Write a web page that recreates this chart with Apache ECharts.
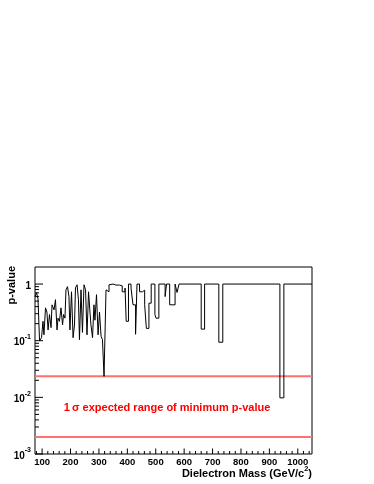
<!DOCTYPE html>
<html>
<head>
    <meta charset="utf-8">
    <title>p-value</title>
    <script src="https://cdn.jsdelivr.net/npm/echarts@6/dist/echarts.min.js"></script>
    <style>
        body { margin: 0; background: #fff; }
        #chart1 { width: 374px; height: 484px; }
    </style>
</head>
<body>
<div id="chart1"></div>
<script type="text/javascript">
    // 直方图的左边界 (GeV/c^2) 和每个 bin 的 p-value
    var binStart = [75, 80.5, 85.5, 91, 98, 103, 106.5, 112, 117, 121,
        126, 131.5, 135, 142, 147, 152.5, 156, 161, 166.5, 172,
        175.5, 180.5, 184, 189.5, 194.5, 198, 203.5, 209, 214, 217.5,
        223, 228, 231.5, 237, 242, 247.5, 253, 258, 263.5, 268.5,
        272, 277.5, 282.5, 286, 291.5, 297, 302, 307.5, 312.5, 318,
        325, 330, 335.5, 339, 350, 360, 366, 372, 382, 392,
        396, 404, 413, 420, 429, 434, 443, 453, 461, 467,
        476, 484, 497, 501, 511, 533, 538, 549, 568, 575,
        582, 660, 672, 722, 736, 937, 951];
    var lastEdge = 1050;
    var pValues = [0.60, 0.70, 0.55, 0.10, 0.113, 0.22, 0.127, 0.38, 0.32, 0.155,
        0.29, 0.17, 0.43, 0.35, 0.53, 0.155, 0.25, 0.22, 0.38, 0.19,
        0.29, 0.25, 0.79, 0.90, 0.60, 0.155, 0.73, 0.113, 0.19, 0.86,
        0.97, 0.53, 0.104, 0.79, 0.14, 0.97, 0.79, 0.127, 0.73, 0.32,
        0.19, 0.113, 0.43, 0.23, 0.65, 0.127, 0.32, 0.12, 0.104, 0.0235,
        0.79, 0.73, 0.97, 1.0, 0.96, 1.0, 0.96, 0.93, 0.73, 0.85,
        0.22, 1.0, 0.85, 0.43, 0.13, 1.0, 0.73, 0.78, 0.43, 0.165,
        0.46, 1.0, 0.29, 0.25, 1.0, 0.6, 1.0, 0.43, 1.0, 0.71,
        1.0, 0.16, 1.0, 0.094, 1.0, 0.0098, 1.0];

    // 1 sigma 期望范围 (红线)
    var bandUpper = 0.0235;
    var bandLower = 0.002;

    // 坐标轴
    var xMin = 75, xMax = 1050;
    var yMin = 0.001, yMax = 2;
    var xLabels = [100, 200, 300, 400, 500, 600, 700, 800, 900, 1000];
    var yDecades = [0.001, 0.01, 0.1, 1];

    var FONT = 'Liberation Sans';

    // 阶梯线的点
    var histPoints = [];
    for (var i = 0; i < binStart.length; i++) {
        histPoints.push([binStart[i], pValues[i]]);
    }
    histPoints.push([lastEdge, pValues[pValues.length - 1]]);

    // 刻度 (ROOT 风格, 朝内)  类型: 0 x主 1 x次 2 y主 3 y次
    var ticks = [];
    for (var t = 80; t <= 1040; t += 20) {
        ticks.push([t, yMin, t % 100 === 0 ? 0 : 1]);
    }
    yDecades.forEach(function (d) {
        ticks.push([xMin, d, 2]);
        if (d < 1) {
            for (var k = 2; k <= 9; k++) ticks.push([xMin, d * k, 3]);
        }
    });

    var myChart1 = echarts.init(document.getElementById('chart1'));

    myChart1.setOption({
        animation: false,
        grid: {
            left: 35, right: 62, top: 267, bottom: 30,
            show: true, borderColor: '#000', borderWidth: 1
        },
        xAxis: {
            type: 'value', min: xMin, max: xMax,
            axisLine: { show: false },
            axisTick: { show: false },
            splitLine: { show: false },
            axisLabel: {
                customValues: xLabels,
                formatter: function (v) { return String(v); },
                margin: 3,
                color: '#000',
                fontFamily: FONT,
                fontWeight: 'bold',
                fontSize: 9.5
            }
        },
        yAxis: {
            type: 'log', logBase: 10, min: yMin, max: yMax,
            axisLine: { show: false },
            axisTick: { show: false },
            splitLine: { show: false },
            axisLabel: {
                margin: 4,
                formatter: function (v) {
                    var lg = Math.log10(v);
                    var e = Math.round(lg);
                    if (Math.abs(lg - e) > 1e-6) return '';
                    if (e === 0) return '{b|1}';
                    return '{b|10}{s|' + e + '}';
                },
                rich: {
                    b: { fontFamily: FONT, fontWeight: 'bold', fontSize: 10, color: '#000', lineHeight: 14, verticalAlign: 'bottom' },
                    s: { fontFamily: FONT, fontWeight: 'bold', fontSize: 7, color: '#000', lineHeight: 14, verticalAlign: 'top' }
                }
            }
        },
        graphic: [
            {
                type: 'text', right: 62, top: 465,
                style: {
                    text: '{t|Dielectron Mass (GeV/c}{s|2}{t|)}',
                    rich: {
                        t: { fontFamily: FONT, fontWeight: 'bold', fontSize: 11, fill: '#000', lineHeight: 14, verticalAlign: 'bottom' },
                        s: { fontFamily: FONT, fontWeight: 'bold', fontSize: 7.5, fill: '#000', lineHeight: 14, verticalAlign: 'top' }
                    }
                }
            },
            {
                type: 'text', x: 12, y: 266, rotation: Math.PI / 2,
                style: {
                    text: 'p-value', align: 'right', verticalAlign: 'middle',
                    fontFamily: FONT, fontWeight: 'bold', fontSize: 11, fill: '#000'
                }
            },
            {
                type: 'text', x: 167, y: 408,
                style: {
                    text: '1\u2009\u03c3 expected range of minimum p-value',
                    align: 'center', verticalAlign: 'middle',
                    fontFamily: FONT, fontWeight: 'bold', fontSize: 11, fill: '#ff0000'
                }
            }
        ],
        series: [
            {
                name: 'upper', type: 'line', symbol: 'none', silent: true,
                lineStyle: { color: '#ff7070', width: 2 },
                data: [[xMin, bandUpper], [xMax, bandUpper]]
            },
            {
                name: 'lower', type: 'line', symbol: 'none', silent: true,
                lineStyle: { color: '#ff7070', width: 2 },
                data: [[xMin, bandLower], [xMax, bandLower]]
            },
            {
                name: 'p-value', type: 'line', step: 'end', symbol: 'none',
                lineStyle: { color: '#000', width: 1 },
                data: histPoints
            },
            {
                name: 'ticks', type: 'custom', silent: true,
                renderItem: function (params, api) {
                    var p = api.coord([api.value(0), api.value(1)]);
                    var kind = api.value(2);
                    var shape;
                    if (kind < 2) {
                        var lx = kind === 0 ? 5.5 : 3;
                        shape = { x1: p[0], y1: p[1], x2: p[0], y2: p[1] - lx };
                    } else {
                        var ly = kind === 2 ? 8 : 4;
                        shape = { x1: p[0], y1: p[1], x2: p[0] + ly, y2: p[1] };
                    }
                    return { type: 'line', shape: shape, style: { stroke: '#000', lineWidth: 1 } };
                },
                data: ticks
            }
        ]
    });
</script>
</body>
</html>
